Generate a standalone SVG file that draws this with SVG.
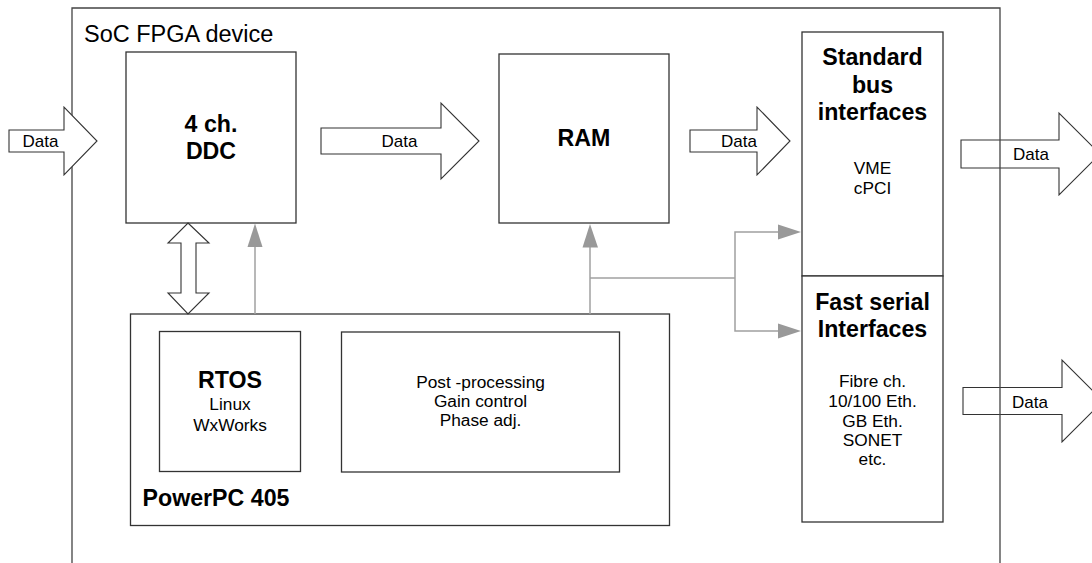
<svg xmlns="http://www.w3.org/2000/svg" width="1092" height="563" viewBox="0 0 1092 563">
<style>
.box{fill:#fff;stroke:#333;stroke-width:1.3}
.frame{fill:none;stroke:#444;stroke-width:1.3}
.blk{fill:#fff;stroke:#333;stroke-width:1.1;stroke-linejoin:miter}
.gl{fill:none;stroke:#a0a0a0;stroke-width:1.5}
.gh{fill:#999;stroke:none}
text{font-family:"Liberation Sans",Arial,sans-serif;fill:#000}
.n{font-size:17.3px;text-anchor:middle}
.b{font-size:23.2px;font-weight:bold;text-anchor:middle}
.d{font-size:17px;text-anchor:middle}
</style>
<rect width="1092" height="563" fill="#fff"/>
<g id="out-arrows">
<polygon class="blk" points="961,140 1059,140 1059,113 1100,154 1059,195 1059,168 961,168"/>
<text class="d" x="1031" y="160">Data</text>
<polygon class="blk" points="963,387.5 1062,387.5 1062,360 1103,401 1062,442 1062,414.5 963,414.5"/>
<text class="d" x="1030" y="407.5">Data</text>
</g>
<g id="soc-frame">
<polyline class="frame" points="72,570 72,8 1000,8 1000,570"/>
<text x="84" y="41.5" style="font-size:23.5px">SoC FPGA device</text>
</g>
<g id="input-arrow">
<polygon class="blk" points="9,130 64,130 64,107 97,141 64,175 64,152 9,152"/>
<text class="d" x="40.5" y="147">Data</text>
</g>
<g id="ddc">
<rect class="box" x="126" y="52" width="170" height="171"/>
<text class="b" x="211" y="132">4 ch.</text>
<text class="b" x="211" y="159">DDC</text>
</g>
<g id="ram">
<rect class="box" x="499" y="54" width="170" height="169"/>
<text class="b" x="584" y="146">RAM</text>
</g>
<g id="std-bus">
<rect class="box" x="802" y="32" width="141" height="244"/>
<text class="b" x="872.5" y="65">Standard</text>
<text class="b" x="872.5" y="93">bus</text>
<text class="b" x="872.5" y="120">interfaces</text>
<text class="n" x="872.5" y="173.5">VME</text>
<text class="n" x="872.5" y="193.5">cPCI</text>
</g>
<g id="fast-serial">
<rect class="box" x="802" y="276" width="141" height="246"/>
<text class="b" x="872.5" y="309.5">Fast serial</text>
<text class="b" x="872.5" y="337">Interfaces</text>
<text class="n" x="872.5" y="387">Fibre ch.</text>
<text class="n" x="872.5" y="407">10/100 Eth.</text>
<text class="n" x="872.5" y="427">GB Eth.</text>
<text class="n" x="872.5" y="446">SONET</text>
<text class="n" x="872.5" y="465">etc.</text>
</g>
<g id="powerpc">
<rect class="box" x="130.5" y="314" width="539" height="211.5"/>
<text x="142.5" y="506" style="font-size:23.2px;font-weight:bold">PowerPC 405</text>
</g>
<g id="rtos">
<rect class="box" x="159.5" y="331.5" width="141" height="140"/>
<text class="b" x="230" y="387.5">RTOS</text>
<text class="n" x="230" y="410">Linux</text>
<text class="n" x="230" y="430.5">WxWorks</text>
</g>
<g id="postproc">
<rect class="box" x="341.5" y="332" width="278" height="140"/>
<text class="n" x="480.5" y="388">Post -processing</text>
<text class="n" x="480.5" y="407">Gain control</text>
<text class="n" x="480.5" y="426">Phase adj.</text>
</g>
<g id="connectors">
<polygon class="blk" points="188,223 209,243 196,243 196,293 209,293 188,314 168,293 181,293 181,243 168,243"/>
<polygon class="blk" points="321,128 441,128 441,103 479,141 441,179 441,154 321,154"/>
<text class="d" x="399.5" y="147">Data</text>
<polygon class="blk" points="690,130 757,130 757,107 790,141 757,175 757,152 690,152"/>
<text class="d" x="739" y="147">Data</text>
<line class="gl" x1="255" y1="314" x2="255" y2="245"/>
<polygon class="gh" points="255,223.5 247.5,247 262.5,247"/>
<line class="gl" x1="590" y1="314" x2="590" y2="246"/>
<polygon class="gh" points="590,224 582.5,247.5 598,247.5"/>
<polyline class="gl" points="590,278 735,278"/>
<polyline class="gl" points="779,232 735,232 735,331 779,331"/>
<polygon class="gh" points="778,224.5 801,232 778,239.5"/>
<polygon class="gh" points="778,323.5 801,331 778,338.5"/>
</g>
</svg>
